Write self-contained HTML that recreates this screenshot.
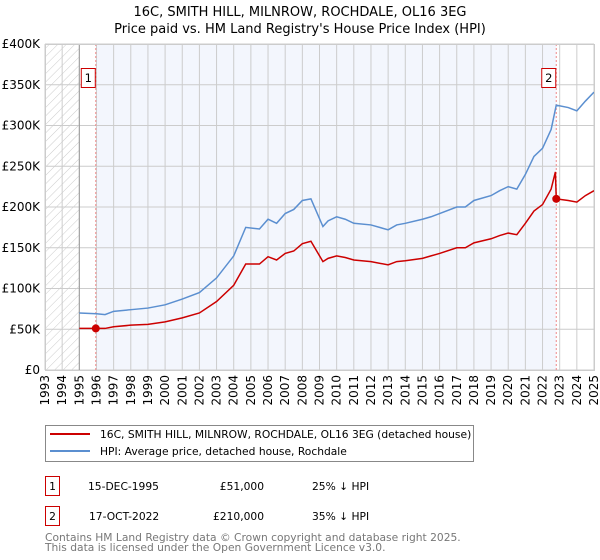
<!DOCTYPE html>
<html><head><meta charset="utf-8"><style>
body{margin:0;background:#fff;font-family:"DejaVu Sans","Liberation Sans",sans-serif;}
#wrap{position:relative;width:600px;height:560px;overflow:hidden}
</style></head><body>
<div id="wrap">
<svg id="chart" width="600" height="560" xmlns="http://www.w3.org/2000/svg" font-family="DejaVu Sans, Liberation Sans, sans-serif">
<defs><pattern id="hatch" width="6" height="6" patternUnits="userSpaceOnUse" patternTransform="rotate(45)"><line x1="0" y1="0" x2="0" y2="6" stroke="#ccc" stroke-width="1"/></pattern></defs>
<text x="300" y="16" text-anchor="middle" font-size="13">16C, SMITH HILL, MILNROW, ROCHDALE, OL16 3EG</text>
<text x="300" y="33" text-anchor="middle" font-size="13">Price paid vs. HM Land Registry's House Price Index (HPI)</text>
<g id="plot"></g>
<rect x="45.5" y="425.5" width="428" height="36" fill="#fff" stroke="#888"/>
<line x1="50" y1="434" x2="90" y2="434" stroke="#cc0000" stroke-width="2"/>
<text x="100" y="438" font-size="10.7">16C, SMITH HILL, MILNROW, ROCHDALE, OL16 3EG (detached house)</text>
<line x1="50" y1="451" x2="90" y2="451" stroke="#5b8fd0" stroke-width="2"/>
<text x="100" y="455" font-size="10.7">HPI: Average price, detached house, Rochdale</text>
<g font-size="10.7">
<rect x="45.5" y="476.5" width="14" height="19" fill="none" stroke="#cc0000"/>
<text x="52.5" y="490" text-anchor="middle">1</text>
<text x="88" y="490">15-DEC-1995</text>
<text x="264" y="490" text-anchor="end">£51,000</text>
<text x="312" y="490">25% ↓ HPI</text>
<rect x="45.5" y="506.5" width="14" height="19" fill="none" stroke="#cc0000"/>
<text x="52.5" y="520" text-anchor="middle">2</text>
<text x="89" y="520">17-OCT-2022</text>
<text x="264" y="520" text-anchor="end">£210,000</text>
<text x="312" y="520">35% ↓ HPI</text>
</g>
<text x="45" y="541" font-size="10.7" fill="#777">Contains HM Land Registry data © Crown copyright and database right 2025.</text>
<text x="45" y="551" font-size="10.7" fill="#777">This data is licensed under the Open Government Licence v3.0.</text>
</svg>
</div>
<script>
const hpiYears=[1995.0,1996.0,1996.5,1997,1998,1999,2000,2001,2002,2003,2004,2004.7,2005.5,2006,2006.5,2007,2007.5,2008,2008.5,2009.2,2009.5,2010,2010.5,2011,2012,2013,2013.5,2014,2015,2015.5,2016,2017,2017.5,2018,2019,2019.5,2020,2020.5,2021,2021.5,2022,2022.5,2022.8,2023.5,2024,2024.5,2025];
const hpiValues=[70,69,68,72,74,76,80,87,95,113,140,175,173,185,180,192,197,208,210,176,183,188,185,180,178,172,178,180,185,188,192,200,200,208,214,220,225,222,240,262,272,295,325,322,318,330,341];
const priceYears=[1995.0,1996.0,1996.5,1997,1998,1999,2000,2001,2002,2003,2004,2004.7,2005.5,2006,2006.5,2007,2007.5,2008,2008.5,2009.2,2009.5,2010,2010.5,2011,2012,2013,2013.5,2014,2015,2015.5,2016,2017,2017.5,2018,2019,2019.5,2020,2020.5,2021,2021.5,2022,2022.5,2022.75,2022.8,2023.5,2024,2024.5,2025];
const priceValues=[51,51,51,53,55,56,59,64,70,84,104,130,130,139,135,143,146,155,158,133,137,140,138,135,133,129,133,134,137,140,143,150,150,156,161,165,168,166,180,195,203,222,243,210,208,206,214,220];
const saleYears=[1995.96,2022.8];
const saleValues=[51,210];
const saleLabels=["1","2"];
const yTicks=[0,50,100,150,200,250,300,350,400];
const yTickLabels=["£0","£50K","£100K","£150K","£200K","£250K","£300K","£350K","£400K"];
const xTicks=[1993,1994,1995,1996,1997,1998,1999,2000,2001,2002,2003,2004,2005,2006,2007,2008,2009,2010,2011,2012,2013,2014,2015,2016,2017,2018,2019,2020,2021,2022,2023,2024,2025];

const L=45,R=594,T=44,B=370;
const x=y=>L+(y-1993)/32*(R-L);
const yv=v=>B-v/400*(B-T);
const NS="http://www.w3.org/2000/svg";
const g=document.getElementById('plot');
function mk(t,a){const e=document.createElementNS(NS,t);for(const k in a)e.setAttribute(k,a[k]);g.appendChild(e);return e;}
let e;
e=mk('rect',{x:L,y:T,width:R-L,height:B-T,fill:'#fff'});


e=mk('rect',{x:x(saleYears[0]),y:T,width:x(saleYears[1])-x(saleYears[0]),height:B-T,fill:'#f3f6fd'});


e=mk('rect',{x:L,y:T,width:x(1995)-L,height:B-T,fill:'url(#hatch)'});


yTicks.forEach((t,i)=>{
 e=mk('line',{x1:L,x2:R,y1:yv(t),y2:yv(t),stroke:'#ccc','stroke-width':1});
 
 
 e=mk('text',{x:L-5,y:yv(t)+4,'text-anchor':'end','font-size':12});
 e.textContent=yTickLabels[i];
 
 
});
xTicks.forEach(t=>{
 e=mk('line',{x1:x(t),x2:x(t),y1:T,y2:B,stroke:'#ccc','stroke-width':1});
 
 
 e=mk('text',{x:0,y:0,'text-anchor':'end','font-size':12,transform:`translate(${x(t)+4},${B+5}) rotate(-90)`});
 e.textContent=t;
 
 
});
e=mk('line',{x1:x(1995),x2:x(1995),y1:T,y2:B,stroke:'#999','stroke-width':1});


saleYears.forEach((s,i)=>{
 e=mk('line',{x1:x(s),x2:x(s),y1:T,y2:B,stroke:'#e88','stroke-width':1,'stroke-dasharray':'2,2'});
 
 
});
e=mk('polyline',{points:hpiYears.map((d,i)=>x(d)+','+yv(hpiValues[i])).join(' '),fill:'none',stroke:'#5b8fd0','stroke-width':1.5});


e=mk('polyline',{points:priceYears.map((d,i)=>x(d)+','+yv(priceValues[i])).join(' '),fill:'none',stroke:'#cc0000','stroke-width':1.5});


saleYears.forEach((s,i)=>{
 e=mk('circle',{cx:x(s),cy:yv(saleValues[i]),r:4,fill:'#cc0000'});
 
 
 e=mk('rect',{x:x(s)-14.5,y:68.5,width:14,height:19,fill:'#fff',stroke:'#cc0000'});
 
 
 e=mk('text',{x:x(s)-7.5,y:82,'text-anchor':'middle','font-size':11.5});
 e.textContent=saleLabels[i];
 
 
});
e=mk('rect',{x:L+.5,y:T+.5,width:R-L,height:B-T,fill:'none',stroke:'#ccc'});


</script>
</body></html>
